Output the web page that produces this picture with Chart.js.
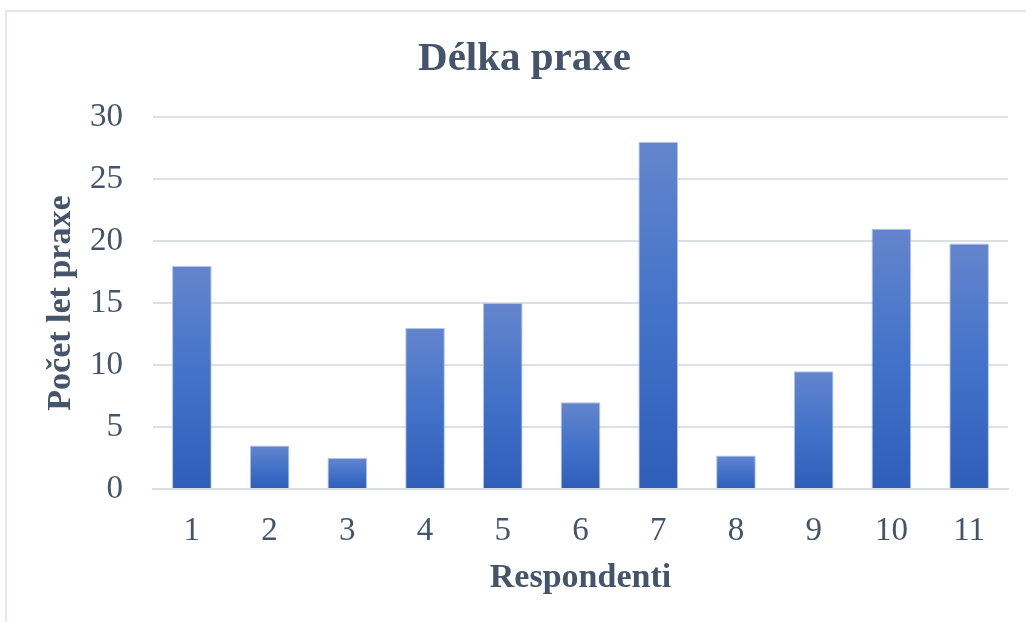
<!DOCTYPE html>
<html>
<head>
<meta charset="utf-8">
<script src="https://cdn.jsdelivr.net/npm/chart.js@4"></script>
<style>
  body { margin: 0; background: #fff; }
  #frame {
    position: absolute; left: 5px; top: 10px; width: 1100px; height: 700px;
    border: 2px solid #e3e6ec; box-sizing: border-box;
  }
  #wrap { position: absolute; left: 0; top: 0; width: 1026px; height: 622px; }
</style>
</head>
<body>
<div id="frame"></div>
<div id="wrap"><canvas id="chart-area" width="1026" height="622"></canvas></div>
<script>
var respondents = ['1', '2', '3', '4', '5', '6', '7', '8', '9', '10', '11'];
var yearsOfPractice = [18, 3.5, 2.5, 13, 15, 7, 28, 2.7, 9.5, 21, 19.8];

var textColor = '#44546A';
var gridColor = '#dcdfe6';

// vertical gradient per bar, like the Office fill
function barFill(context) {
    var chart = context.chart;
    if (!chart.chartArea) return '#4472C4';
    var y = chart.scales.y;
    var top = y.getPixelForValue(context.parsed.y);
    var base = y.getPixelForValue(0);
    if (!isFinite(top) || top === base) return '#4472C4';
    var g = chart.ctx.createLinearGradient(0, top, 0, base);
    g.addColorStop(0, 'rgb(100,133,205)');
    g.addColorStop(0.5, 'rgb(66,114,201)');
    g.addColorStop(1, 'rgb(46,94,184)');
    return g;
}

var config = {
    type: 'bar',
    data: {
        labels: respondents,
        datasets: [{
            data: yearsOfPractice,
            backgroundColor: barFill,
            borderColor: 'rgba(170,190,230,0.9)',
            borderWidth: 1,
            categoryPercentage: 1,
            barPercentage: 0.51
        }]
    },
    options: {
        responsive: false,
        animation: false,
        layout: { padding: { left: 41, right: 18, top: 35, bottom: 23 } },
        plugins: {
            legend: { display: false },
            tooltip: { enabled: false },
            title: {
                display: true,
                text: 'Délka praxe',
                color: textColor,
                font: { family: 'Liberation Serif', size: 41, weight: 'bold' },
                padding: { top: 0, bottom: 33 }
            }
        },
        scales: {
            x: {
                grid: { display: false, drawTicks: false },
                border: { color: gridColor, width: 2 },
                ticks: {
                    color: textColor,
                    padding: 23,
                    font: { family: 'Liberation Serif', size: 33 }
                },
                title: {
                    display: true,
                    text: 'Respondenti',
                    color: textColor,
                    font: { family: 'Liberation Serif', size: 34, weight: 'bold' },
                    padding: { top: 5, bottom: 0 }
                },
                afterFit: function(scale) { scale.height = 110; }
            },
            y: {
                min: 0,
                max: 30,
                ticks: {
                    stepSize: 5,
                    color: textColor,
                    padding: 30,
                    font: { family: 'Liberation Serif', size: 33 }
                },
                grid: { color: gridColor, lineWidth: 2, drawTicks: false },
                border: { display: false },
                title: {
                    display: true,
                    text: 'Počet let praxe',
                    color: textColor,
                    font: { family: 'Liberation Serif', size: 34, weight: 'bold' },
                    padding: { top: 0, bottom: 7 }
                },
                afterFit: function(scale) { scale.width = 112; }
            }
        }
    }
};

window.onload = function() {
    var ctx = document.getElementById('chart-area').getContext('2d');
    window.myBar = new Chart(ctx, config);
};
</script>
</body>
</html>
